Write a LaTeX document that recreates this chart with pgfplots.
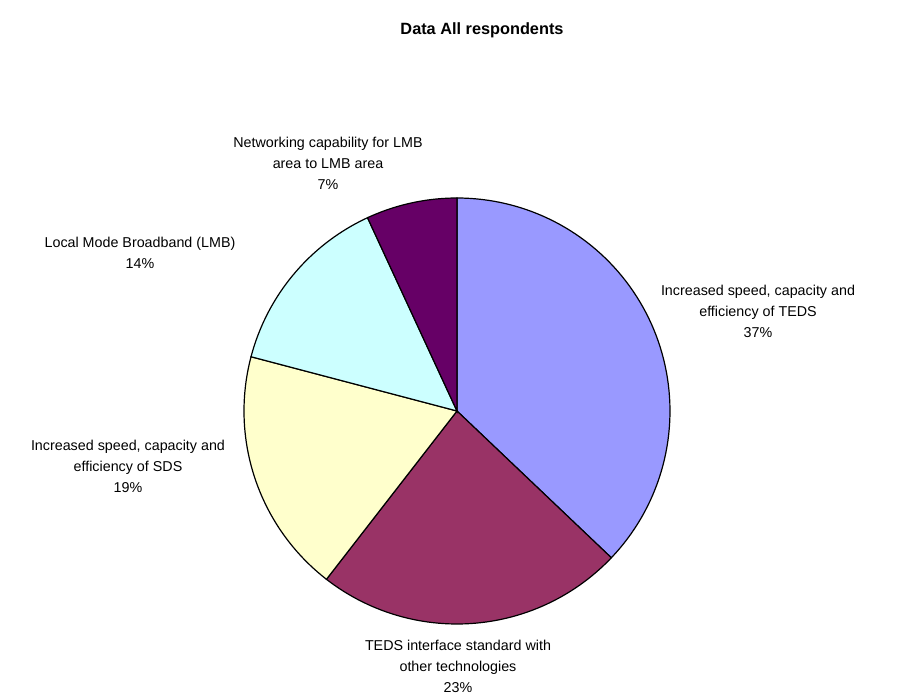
\documentclass[border=0pt]{standalone}
\usepackage{fontspec}
\setmainfont{Liberation Sans}
\usepackage{pgfplots}
\usepgfplotslibrary{polar}
\pgfplotsset{compat=1.18}

\definecolor{sliceA}{HTML}{9999FF}
\definecolor{sliceB}{HTML}{993366}
\definecolor{sliceC}{HTML}{FFFFCC}
\definecolor{sliceD}{HTML}{CCFFFF}
\definecolor{sliceE}{HTML}{660066}

% shares in percent, clockwise from 12 o'clock
\pgfmathsetmacro\aA{90}
\pgfmathsetmacro\aB{\aA-3.6*37.1}
\pgfmathsetmacro\aC{\aB-3.6*23.4}
\pgfmathsetmacro\aD{\aC-3.6*18.6}
\pgfmathsetmacro\aE{\aD-3.6*14.0}
\pgfmathsetmacro\aF{\aE-3.6*6.9}

\begin{document}
\begin{tikzpicture}[x=1bp,y=1bp]
\useasboundingbox (-457,-286) rectangle (443,411);
\begin{polaraxis}[
    at={(0,0)}, anchor=origin,
    hide axis,
    scale only axis,
    width=426bp,
    xmin=0, xmax=360,
    ymin=0, ymax=1,
    clip=false,
]
\addplot[fill=sliceA, draw=black, line width=1.2bp, domain=\aB:\aA, samples=80] {1} -- (axis cs:0,0) -- cycle;
\addplot[fill=sliceB, draw=black, line width=1.2bp, domain=\aC:\aB, samples=60] {1} -- (axis cs:0,0) -- cycle;
\addplot[fill=sliceC, draw=black, line width=1.2bp, domain=\aD:\aC, samples=50] {1} -- (axis cs:0,0) -- cycle;
\addplot[fill=sliceD, draw=black, line width=1.2bp, domain=\aE:\aD, samples=40] {1} -- (axis cs:0,0) -- cycle;
\addplot[fill=sliceE, draw=black, line width=1.2bp, domain=\aF:\aE, samples=30] {1} -- (axis cs:0,0) -- cycle;
\end{polaraxis}

\begin{scope}[every node/.style={align=center, font=\fontsize{14.3bp}{21bp}\selectfont, inner sep=0pt}]
\node[font=\fontsize{16.3bp}{18bp}\selectfont\bfseries] at (25,381) {Data All respondents};
\node at (301,100) {Increased speed, capacity and\\efficiency of TEDS\\37\%};
\node at (1,-255) {TEDS interface standard with\\other technologies\\23\%};
\node at (-329,-55) {Increased speed, capacity and\\efficiency of SDS\\19\%};
\node at (-317,158) {Local Mode Broadband (LMB)\\14\%};
\node at (-129,248) {Networking capability for LMB\\area to LMB area\\7\%};
\end{scope}
\end{tikzpicture}
\end{document}
